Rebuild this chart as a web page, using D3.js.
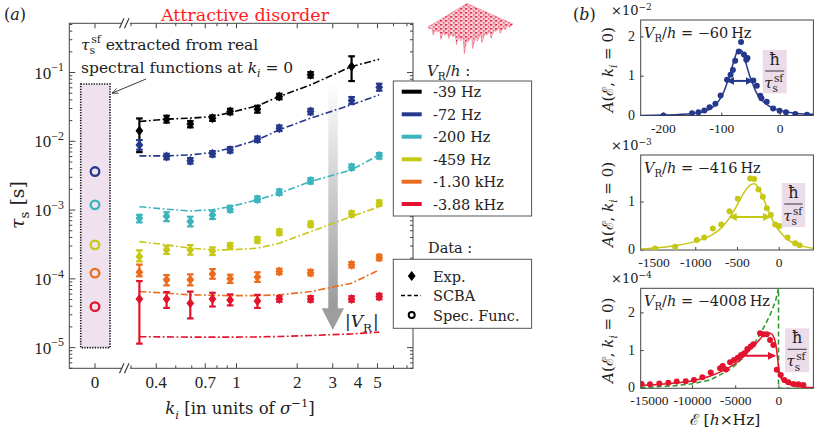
<!DOCTYPE html>
<html><head><meta charset="utf-8">
<script src="https://cdn.jsdelivr.net/npm/d3@7"></script>
<style>
body{margin:0;background:#fff}
text{font-family:'DejaVu Serif','Liberation Serif',serif;fill:#222}
text.num{font-family:'Liberation Serif','DejaVu Serif',serif}
</style></head>
<body><svg id="c" width="814" height="432"></svg>
<script>
// ---------------- DATA (panel a) ----------------
const kValues = [0.33, 0.45, 0.59, 0.76, 0.93, 1.27, 1.63, 2.33, 3.72, 5.1];
const seriesNames = ["-39 Hz", "-72 Hz", "-200 Hz", "-459 Hz", "-1.30 kHz", "-3.88 kHz"];
const expBlack  = [0.0142, 0.0210, 0.0179, 0.0217, 0.0271, 0.0293, 0.0448, 0.0926, 0.122, null];
const expNavy   = [0.00887, 0.0060, 0.0052, 0.00657, 0.0075, 0.0107, 0.0155, 0.0271, 0.0392, 0.0612];
const expCyan   = [0.00076, 0.00081, 0.00068, 0.00085, 0.00103, 0.00144, 0.00182, 0.00266, 0.00421, 0.00614];
const expYellow = [0.000211, 0.000264, 0.000264, 0.000255, 0.000301, 0.000368, 0.000476, 0.000622, 0.00088, 0.00126];
const expOrange = [0.000125, 0.0000966, 0.0000966, 0.000118, 0.0001, 0.000106, 0.000128, 0.000123, 0.00016, 0.000204];
const expRed    = [0.000051, 0.000051, 0.0000441, 0.000051, 0.0000494, 0.0000475, 0.000051, 0.000051, 0.000051, 0.0000552];
// error bars, in decades below / above each point
const errLoBlack  = [0.31, 0.05, 0.05, 0.04, 0.04, 0.05, 0.04, 0.04, 0.21, 0];
const errHiBlack  = [0.18, 0.05, 0.04, 0.04, 0.04, 0.05, 0.04, 0.04, 0.15, 0];
const errLoNavy   = [0.07, 0.04, 0.04, 0.04, 0.04, 0.04, 0.04, 0.04, 0.05, 0.05];
const errHiNavy   = [0.07, 0.04, 0.04, 0.04, 0.04, 0.04, 0.04, 0.04, 0.05, 0.05];
const errLoCyan   = [0.06, 0.07, 0.07, 0.06, 0.04, 0.04, 0.04, 0.04, 0.04, 0.04];
const errHiCyan   = [0.05, 0.06, 0.07, 0.06, 0.05, 0.04, 0.04, 0.04, 0.04, 0.04];
const errLoYellow = [0.07, 0.06, 0.07, 0.06, 0.04, 0.04, 0.04, 0.04, 0.04, 0.04];
const errHiYellow = [0.09, 0.06, 0.07, 0.05, 0.04, 0.04, 0.04, 0.04, 0.04, 0.04];
const errLoOrange = [0.06, 0.08, 0.08, 0.07, 0.06, 0.07, 0.04, 0.04, 0.04, 0.04];
const errHiOrange = [0.11, 0.07, 0.08, 0.07, 0.06, 0.07, 0.04, 0.04, 0.04, 0.04];
const errLoRed    = [0.65, 0.13, 0.22, 0.11, 0.08, 0.10, 0.04, 0.04, 0.04, 0.04];
const errHiRed    = [0.26, 0.10, 0.17, 0.09, 0.08, 0.09, 0.04, 0.04, 0.04, 0.04];
const scbaBlack  = [0.0194, 0.0210, 0.0217, 0.0229, 0.0262, 0.0328, 0.0448, 0.0662, 0.1225, 0.156];
const scbaNavy   = [0.00614, 0.00614, 0.00635, 0.00687, 0.00794, 0.0105, 0.0147, 0.0217, 0.0339, 0.0474];
const scbaCyan   = [0.00112, 0.00103, 0.00097, 0.00101, 0.00112, 0.00141, 0.00176, 0.0026, 0.00385, 0.00635];
const scbaYellow = [0.000348, 0.000312, 0.000279, 0.000264, 0.000264, 0.000279, 0.00033, 0.000486, 0.000806, 0.00112];
const scbaOrange = [0.0000653, 0.0000618, 0.0000585, 0.0000577, 0.000057, 0.000057, 0.0000585, 0.0000653, 0.0000863, 0.000135];
const scbaRed    = [0.0000144, 0.0000143, 0.0000142, 0.0000142, 0.0000142, 0.0000143, 0.0000145, 0.000015, 0.0000158, 0.0000168];
const specFuncSeries = [1, 2, 3, 4, 5];
const specFuncTau = [0.00363, 0.00119, 0.000312, 0.000121, 0.0000394];
const specBoxTop = 0.068;
const xTickLabels = [0.4, 0.7, 1, 2, 3, 4, 5];
const xMinorTicks = [0.3, 0.4, 0.5, 0.6, 0.7, 0.8, 0.9, 1, 2, 3, 4, 5, 6, 7];
const yTickExps = [-5, -4, -3, -2, -1];

// ---------------- DATA (panel b) ----------------
const b1PtsX = [-200, -151, -140, -130, -121, -111, -102, -91, -85, -81, -77, -71, -67, -62, -58, -56, -46, -40, -34, -32, -23, -12, -1, 10, 26, 46];
const b1PtsY = [0.0, 0.06, 0.08, 0.13, 0.21, 0.30, 0.51, 0.91, 1.04, 1.16, 1.39, 1.63, 1.87, 1.55, 1.42, 1.46, 0.89, 0.76, 0.50, 0.44, 0.35, 0.18, 0.12, 0.085, 0.04, 0.02];
const b1CurveX = [-239, -200, -150, -130, -115, -105, -98, -92, -86, -80, -75, -71, -67, -63, -58, -52, -47, -42, -35, -25, -10, 0, 20, 40, 57];
const b1CurveY = [0.0, 0.01, 0.05, 0.10, 0.22, 0.38, 0.55, 0.78, 1.05, 1.35, 1.58, 1.67, 1.66, 1.55, 1.30, 1.00, 0.80, 0.62, 0.45, 0.30, 0.18, 0.13, 0.07, 0.04, 0.03];
const b1Arrow = [-91, -47, 0.88];

const b2PtsX = [-1487, -1247, -987, -899, -795, -695, -596, -496, -348, -300, -248, -196, -148, -100, -48, 4, 100, 192, 244];
const b2PtsY = [0.03, 0.07, 0.21, 0.26, 0.45, 0.53, 0.81, 1.07, 1.49, 1.48, 1.26, 1.11, 0.87, 0.73, 0.53, 0.50, 0.26, 0.14, 0.10];
const b2CurveX = [-1660, -1500, -1250, -1000, -800, -700, -600, -500, -420, -350, -300, -250, -200, -150, -100, -50, 0, 100, 200, 300, 410];
const b2CurveY = [0.02, 0.04, 0.09, 0.18, 0.32, 0.45, 0.66, 0.95, 1.20, 1.35, 1.38, 1.30, 1.12, 0.90, 0.70, 0.52, 0.40, 0.22, 0.12, 0.07, 0.03];
const b2Arrow = [-596, -108, 0.69];

const b3PtsX = [-15890, -14925, -13845, -12800, -11830, -10790, -9830, -8860, -7890, -6810, -6500, -6120, -5650, -5190, -4760, -4380, -4000, -3650, -3260, -2950, -2180, -1800, -1400, -1020, -640, -245, 220, 640, 1100, 1680, 2260, 2840];
const b3PtsY = [0.115, 0.106, 0.13, 0.15, 0.18, 0.19, 0.22, 0.29, 0.42, 0.53, 0.59, 0.50, 0.69, 0.75, 0.81, 0.88, 0.93, 1.04, 1.11, 1.17, 1.46, 1.43, 1.43, 1.28, 1.15, 0.49, 0.35, 0.22, 0.16, 0.115, 0.106, 0.09];
const b3CurveX = [-16000, -14000, -12000, -10000, -8000, -6000, -4500, -3500, -2500, -1800, -1300, -900, -500, -250, -100, 0, 200, 500, 1000, 2000, 3000, 4000];
const b3CurveY = [0.08, 0.10, 0.14, 0.20, 0.32, 0.52, 0.75, 0.98, 1.22, 1.40, 1.47, 1.45, 1.30, 1.00, 0.70, 0.50, 0.30, 0.20, 0.12, 0.06, 0.03, 0.02];
const b3GreenX = [-16000, -14000, -12000, -10000, -8000, -6000, -5000, -4000, -3000, -2000, -1000, -400, -40, -40, 4000];
const b3GreenY = [0.02, 0.04, 0.07, 0.12, 0.22, 0.45, 0.62, 0.85, 1.13, 1.50, 1.95, 2.30, 2.65, 0.0, 0.0];
const b3Arrow = [-4500, -440, 0.86];

// ---------------- STYLE ----------------
const colors = ["#000000", "#26388c", "#3bb4bb", "#c6c814", "#ec6c1e", "#e1132d"];
const expAll = [expBlack, expNavy, expCyan, expYellow, expOrange, expRed];
const errLoAll = [errLoBlack, errLoNavy, errLoCyan, errLoYellow, errLoOrange, errLoRed];
const errHiAll = [errHiBlack, errHiNavy, errHiCyan, errHiYellow, errHiOrange, errHiRed];
const scbaAll = [scbaBlack, scbaNavy, scbaCyan, scbaYellow, scbaOrange, scbaRed];

const svg = d3.select("#c");
const defs = svg.append("defs");

function rich(sel, x, y, parts, size, anchor) {
  const t = sel.append("text").attr("x", x).attr("y", y).attr("font-size", size)
    .attr("text-anchor", anchor || "start");
  let shift = 0;
  parts.forEach(p => {
    let target = 0;
    if (p.sub) target = size * 0.28;
    if (p.sup) target = -size * 0.42;
    const ts = t.append("tspan").text(p.t).attr("dy", target - shift);
    if (p.dx) ts.attr("dx", p.dx);
    shift = target;
    if (p.sub || p.sup) ts.attr("font-size", size * 0.7);
    if (p.i) ts.attr("font-style", "italic");
    if (p.fill) ts.style("fill", p.fill);
  });
  return t;
}

// ---------------- PANEL A ----------------
const L = 69.3, R = 413, T = 23.3, B = 368.3;
const y = d3.scaleLog().domain([5e-6, 0.52]).range([B, T]);
const xk = d3.scaleLog().domain([0.28, 7.5]).range([125, R]);
const x0 = d3.scaleLinear().domain([-1, 1]).range([L, 120.7]);

const ga = svg.append("g");

// spectral function box
ga.append("rect").attr("x", 80.7).attr("y", y(specBoxTop)).attr("width", 29.3)
  .attr("height", y(1e-5) - y(specBoxTop)).attr("fill", "#efe2ee")
  .attr("stroke", "#111").attr("stroke-width", 1.6).attr("stroke-dasharray", "1.3,1.3");

// gradient arrow
const grad = defs.append("linearGradient").attr("id", "ga").attr("x1", 0).attr("x2", 0).attr("y1", 0).attr("y2", 1);
grad.append("stop").attr("offset", 0).attr("stop-color", "#ffffff");
grad.append("stop").attr("offset", 1).attr("stop-color", "#9a9a9a");
ga.append("rect").attr("x", 328.3).attr("y", 80).attr("width", 9.5).attr("height", 229)
  .attr("fill", "url(#ga)");
ga.append("path").attr("d", "M321.7,308.3L344,308.3L332.8,330Z").attr("fill", "#9d9d9d");
rich(ga, 345, 327, [{t: "|"}, {t: "V", i: true}, {t: "R", sub: true}, {t: "|", dx: 1}], 17);

// frame
ga.append("rect").attr("x", L).attr("y", T).attr("width", R - L).attr("height", B - T)
  .attr("fill", "none").attr("stroke", "#444").attr("stroke-width", 1);

// y ticks
const yMajor = yTickExps.map(e => Math.pow(10, e));
const yMinor = [];
for (let e = -6; e <= 0; e++) for (let m = 2; m <= 9; m++) {
  const v = m * Math.pow(10, e);
  if (v > 5e-6 && v < 0.52) yMinor.push(v);
}
yMinor.push(5e-6);
yMinor.forEach(v => {
  ga.append("line").attr("x1", L).attr("x2", L + 3).attr("y1", y(v)).attr("y2", y(v)).attr("stroke", "#444");
  ga.append("line").attr("x1", R).attr("x2", R - 3).attr("y1", y(v)).attr("y2", y(v)).attr("stroke", "#444");
});
yMajor.forEach((v, i) => {
  ga.append("line").attr("x1", L).attr("x2", L + 6).attr("y1", y(v)).attr("y2", y(v)).attr("stroke", "#444");
  ga.append("line").attr("x1", R).attr("x2", R - 6).attr("y1", y(v)).attr("y2", y(v)).attr("stroke", "#444");
  rich(ga, 64, y(v) + 6, [{t: "10"}, {t: "\u2212" + (-yTickExps[i]), sup: true}], 17, "end").attr("class", "num");
});

// x ticks
xMinorTicks.forEach(v => {
  const len = xTickLabels.includes(v) ? 5 : 3;
  ga.append("line").attr("x1", xk(v)).attr("x2", xk(v)).attr("y1", B).attr("y2", B - len).attr("stroke", "#444");
  ga.append("line").attr("x1", xk(v)).attr("x2", xk(v)).attr("y1", T).attr("y2", T + len).attr("stroke", "#444");
});
ga.append("line").attr("x1", x0(0)).attr("x2", x0(0)).attr("y1", B).attr("y2", B - 5).attr("stroke", "#444");
ga.append("line").attr("x1", x0(0)).attr("x2", x0(0)).attr("y1", T).attr("y2", T + 5).attr("stroke", "#444");
xTickLabels.forEach(v => {
  ga.append("text").attr("class", "num").attr("x", xk(v)).attr("y", 388).attr("text-anchor", "middle").attr("font-size", 17).text(v);
});
ga.append("text").attr("class", "num").attr("x", x0(0)).attr("y", 388).attr("text-anchor", "middle").attr("font-size", 17).text("0");

// axis breaks
[T, B].forEach(yy => {
  ga.append("rect").attr("x", 122).attr("y", yy - 2).attr("width", 8).attr("height", 4).attr("fill", "#fff");
  ga.append("line").attr("x1", 119.5).attr("y1", yy + 5).attr("x2", 124).attr("y2", yy - 5).attr("stroke", "#333").attr("stroke-width", 1.1);
  ga.append("line").attr("x1", 124.5).attr("y1", yy + 5).attr("x2", 129).attr("y2", yy - 5).attr("stroke", "#333").attr("stroke-width", 1.1);
});

// SCBA lines
const lineK = d3.line().x((d, i) => xk(kValues[i])).y(d => y(d));
scbaAll.forEach((s, si) => {
  ga.append("path").attr("d", lineK(s)).attr("fill", "none").attr("stroke", colors[si])
    .attr("stroke-width", 1.6).attr("stroke-dasharray", "7,2.5,1.8,2.5");
});

// error bars & diamonds
const diamond = "M0,-5L3.9,0L0,5L-3.9,0Z";
expAll.forEach((s, si) => {
  s.forEach((v, i) => {
    if (v == null) return;
    const cx = xk(kValues[i]);
    const lo = v / Math.pow(10, errLoAll[si][i]);
    const hi = v * Math.pow(10, errHiAll[si][i]);
    const g = ga.append("g").attr("stroke", colors[si]).attr("stroke-width", 2.2);
    g.append("line").attr("x1", cx).attr("x2", cx).attr("y1", y(lo)).attr("y2", y(hi));
    g.append("line").attr("x1", cx - 3.3).attr("x2", cx + 3.3).attr("y1", y(lo)).attr("y2", y(lo));
    g.append("line").attr("x1", cx - 3.3).attr("x2", cx + 3.3).attr("y1", y(hi)).attr("y2", y(hi));
    ga.append("path").attr("d", diamond).attr("transform", `translate(${cx},${y(v)})`).attr("fill", colors[si]);
  });
});

// spectral function circles
specFuncTau.forEach((v, i) => {
  ga.append("circle").attr("cx", x0(0)).attr("cy", y(v)).attr("r", 4.3)
    .attr("fill", "none").attr("stroke", colors[specFuncSeries[i]]).attr("stroke-width", 2.3);
});

// axis labels
rich(ga, 0, 0, [{t: "\u03c4", i: true}, {t: "s", sub: true}, {t: " [s]"}], 19, "middle")
  .attr("transform", "translate(24,205) rotate(-90)");
rich(ga, 240, 414, [{t: "k", i: true}, {t: "i", sub: true, i: true}, {t: " [in units of "}, {t: "\u03c3", i: true}, {t: "\u22121", sup: true}, {t: "]"}], 16.5, "middle");

// titles
rich(svg, 4, 20, [{t: "("}, {t: "a", i: true}, {t: ")"}], 16);
svg.append("text").attr("x", 245).attr("y", 21).attr("text-anchor", "middle").attr("font-size", 17.5)
  .style("fill", "#ff1c1c").text("Attractive disorder");

// annotation
rich(ga, 81, 50, [{t: "\u03c4", i: true}, {t: "s", sub: true}, {t: "sf", sup: true, dx: -4}, {t: " extracted from real"}], 15.5);
rich(ga, 81, 72.5, [{t: "spectral functions at "}, {t: "k", i: true}, {t: "i", sub: true, i: true}, {t: " = 0"}], 15.5);
defs.append("marker").attr("id", "ah").attr("viewBox", "0 0 10 10").attr("refX", 9).attr("refY", 5)
  .attr("markerWidth", 7).attr("markerHeight", 7).attr("orient", "auto")
  .append("path").attr("d", "M0,1L10,5L0,9").attr("fill", "none").attr("stroke", "#222").attr("stroke-width", 1.2);
ga.append("line").attr("x1", 146).attr("y1", 79).attr("x2", 112.5).attr("y2", 93)
  .attr("stroke", "#222").attr("stroke-width", 0.9).attr("marker-end", "url(#ah)");

// legend 1
rich(svg, 427, 76, [{t: "V", i: true}, {t: "R", sub: true}, {t: "/"}, {t: "h", i: true}, {t: " :"}], 15);
svg.append("rect").attr("x", 393.3).attr("y", 81).attr("width", 138.3).attr("height", 135)
  .attr("fill", "#fff").attr("stroke", "#555").attr("stroke-width", 1);
const legY = [91.7, 114.3, 136.7, 159.3, 181.7, 204];
seriesNames.forEach((n, i) => {
  svg.append("line").attr("x1", 401.7).attr("x2", 421.7).attr("y1", legY[i]).attr("y2", legY[i])
    .attr("stroke", colors[i]).attr("stroke-width", 4);
  svg.append("text").attr("x", 433).attr("y", legY[i] + 5.5).attr("font-size", 14.5).text(n);
});
// legend 2
svg.append("text").attr("x", 428).attr("y", 253).attr("font-size", 14.5).text("Data :");
svg.append("rect").attr("x", 393.3).attr("y", 259.3).attr("width", 138.3).attr("height", 69)
  .attr("fill", "#fff").attr("stroke", "#555").attr("stroke-width", 1);
const leg2Y = [276, 295.5, 315];
svg.append("path").attr("d", diamond).attr("transform", `translate(411.7,${leg2Y[0]})`).attr("fill", "#000");
svg.append("line").attr("x1", 401).attr("x2", 421).attr("y1", leg2Y[1]).attr("y2", leg2Y[1])
  .attr("stroke", "#000").attr("stroke-width", 1.4).attr("stroke-dasharray", "4,2.5");
svg.append("circle").attr("cx", 411.7).attr("cy", leg2Y[2]).attr("r", 3).attr("fill", "none")
  .attr("stroke", "#000").attr("stroke-width", 2);
["Exp.", "SCBA", "Spec. Func."].forEach((t, i) => {
  svg.append("text").attr("x", 433).attr("y", leg2Y[i] + 5.5).attr("font-size", 14.5).text(t);
});

// disorder surface icon (decoration)
const ic = svg.append("g");
const pat = defs.append("pattern").attr("id", "tex").attr("patternUnits", "userSpaceOnUse")
  .attr("width", 5).attr("height", 4);
pat.append("rect").attr("width", 5).attr("height", 4).attr("fill", "#f6c2cb");
pat.append("rect").attr("x", 0).attr("y", 0).attr("width", 2.2).attr("height", 1.6).attr("fill", "#e5304d");
pat.append("rect").attr("x", 3).attr("y", 2.2).attr("width", 1.6).attr("height", 1.4).attr("fill", "#ea5b72");
pat.append("rect").attr("x", 1).attr("y", 2.5).attr("width", 1.2).attr("height", 1).attr("fill", "#fff2f4");
const spikeLen = [2, 7, 3, 9, 4, 6, 3, 10, 5, 17, 4, 12, 6, 9, 3, 7, 2, 5, 3, 2];
let spikes = "M428,27";
for (let i = 0; i < 10; i++) {
  const xa = 428 + i * 3.9, ya = 27 + i * 1.1;
  spikes += `L${xa + 1.2},${ya + spikeLen[i]}L${xa + 3.9},${ya + 1.1}`;
}
for (let i = 0; i < 10; i++) {
  const xa = 467 + i * 4.6, ya = 38 - i * 1.4;
  spikes += `L${xa + 1},${ya + spikeLen[10 + i]}L${xa + 4.6},${ya - 1.4}`;
}
spikes += "L467,3.5Z";
ic.append("path").attr("d", spikes).attr("fill", "url(#tex)").attr("stroke", "#e8455f").attr("stroke-width", 0.4);

// ---------------- PANEL B ----------------
const panels = [
  {xd: [-239, 57], yd: [0, 2.43], top: 20, bot: 115.5, xt: [-200, -100, 0], yt: [0, 1, 2], expo: "\u22122",
   px: b1PtsX, py: b1PtsY, cx: b1CurveX, cy: b1CurveY, arrow: b1Arrow, both: true, col: colors[1],
   label: "\u221260", box: [762.7, 50, 24, 43.3]},
  {xd: [-1660, 410], yd: [0, 1.98], top: 155, bot: 250, xt: [-1500, -1000, -500, 0], yt: [0, 1], expo: "\u22123",
   px: b2PtsX, py: b2PtsY, cx: b2CurveX, cy: b2CurveY, arrow: b2Arrow, both: true, col: colors[3],
   label: "\u2212416", box: [781.7, 183, 23.5, 44]},
  {xd: [-16000, 4000], yd: [0, 2.65], top: 288.3, bot: 388.3, xt: [-15000, -10000, -5000, 0], yt: [0, 1, 2], expo: "\u22124",
   px: b3PtsX, py: b3PtsY, cx: b3CurveX, cy: b3CurveY, arrow: b3Arrow, both: false, col: colors[5],
   label: "\u22124008", box: [785, 328.3, 24.3, 44]}
];
const bL = 640.7, bR = 813.4;
panels.forEach((p, pi) => {
  const g = svg.append("g");
  const xs = d3.scaleLinear().domain(p.xd).range([bL, bR]);
  const ys = d3.scaleLinear().domain(p.yd).range([p.bot, p.top]);
  g.append("rect").attr("x", bL).attr("y", p.top).attr("width", bR - bL).attr("height", p.bot - p.top)
    .attr("fill", "none").attr("stroke", "#444").attr("stroke-width", 1);
  p.xt.forEach(v => {
    g.append("line").attr("x1", xs(v)).attr("x2", xs(v)).attr("y1", p.bot).attr("y2", p.bot - 3).attr("stroke", "#444");
    g.append("text").attr("class", "num").attr("x", xs(v)).attr("y", p.bot + 17).attr("text-anchor", "middle").attr("font-size", 13.5).text(v);
  });
  p.yt.forEach(v => {
    g.append("line").attr("x1", bL).attr("x2", bL + 3).attr("y1", ys(v)).attr("y2", ys(v)).attr("stroke", "#444");
    g.append("text").attr("class", "num").attr("x", 635).attr("y", ys(v) + 4).attr("text-anchor", "end").attr("font-size", 14).text(v);
  });
  rich(g, 611, p.top - 5, [{t: "\u00d710"}, {t: p.expo, sup: true}], 13);
  rich(g, 0, 0, [{t: "A", i: true}, {t: "(\u2130, "}, {t: "k", i: true}, {t: "i", sub: true, i: true}, {t: " = 0)"}], 15, "middle")
    .attr("transform", `translate(613,${(p.top + p.bot) / 2 + 2}) rotate(-90)`);
  const clipId = "clip" + pi;
  defs.append("clipPath").attr("id", clipId).append("rect").attr("x", bL).attr("y", p.top)
    .attr("width", bR - bL).attr("height", p.bot - p.top);
  const inner = g.append("g").attr("clip-path", `url(#${clipId})`);
  if (pi === 2) {
    const lg = d3.line().x((d, i) => xs(b3GreenX[i])).y(d => ys(d));
    inner.append("path").attr("d", lg(b3GreenY)).attr("fill", "none").attr("stroke", "#2e9a2e")
      .attr("stroke-width", 1.6).attr("stroke-dasharray", "5,3");
  }
  const lc = d3.line().curve(d3.curveMonotoneX).x((d, i) => xs(p.cx[i])).y(d => ys(d));
  inner.append("path").attr("d", lc(p.cy)).attr("fill", "none").attr("stroke", p.col).attr("stroke-width", 1.5);
  p.px.forEach((v, i) => {
    inner.append("circle").attr("cx", xs(v)).attr("cy", ys(p.py[i])).attr("r", 3).attr("fill", p.col);
  });
  // width arrow
  const mid = "arr" + pi;
  const mk = defs.append("marker").attr("id", mid).attr("viewBox", "0 0 10 10").attr("refX", 9).attr("refY", 5)
    .attr("markerWidth", 4).attr("markerHeight", 4).attr("orient", "auto-start-reverse");
  mk.append("path").attr("d", "M0,0L10,5L0,10Z").attr("fill", p.col);
  const ar = g.append("line").attr("x1", xs(p.arrow[0])).attr("x2", xs(p.arrow[1]))
    .attr("y1", ys(p.arrow[2])).attr("y2", ys(p.arrow[2])).attr("stroke", p.col).attr("stroke-width", 2)
    .attr("marker-end", `url(#${mid})`);
  if (p.both) ar.attr("marker-start", `url(#${mid})`);
  // label
  rich(g, 644, p.top + 18, [{t: "V", i: true}, {t: "R", sub: true}, {t: "/"}, {t: "h", i: true}, {t: " = " + p.label + "\u2009Hz"}], 14.5);
  // hbar / tau box
  const bx = p.box;
  g.append("rect").attr("x", bx[0]).attr("y", bx[1]).attr("width", bx[2]).attr("height", bx[3]).attr("fill", "#ecdcea");
  const cxm = bx[0] + bx[2] / 2;
  g.append("text").attr("x", cxm).attr("y", bx[1] + 15).attr("text-anchor", "middle").attr("font-size", 16).text("\u0127");
  g.append("line").attr("x1", bx[0] + 2.5).attr("x2", bx[0] + bx[2] - 2.5).attr("y1", bx[1] + 21).attr("y2", bx[1] + 21)
    .attr("stroke", "#222").attr("stroke-width", 0.9);
  rich(g, bx[0] + 1.5, bx[1] + 38, [{t: "\u03c4", i: true}, {t: "s", sub: true}, {t: "sf", sup: true, dx: -4}], 15);
});
rich(svg, 573, 20, [{t: "("}, {t: "b", i: true}, {t: ")"}], 16);
rich(svg, 725, 425, [{t: "\u2130 ["}, {t: "h", i: true}, {t: "\u00d7Hz]"}], 15.5, "middle");
</script></body></html>
